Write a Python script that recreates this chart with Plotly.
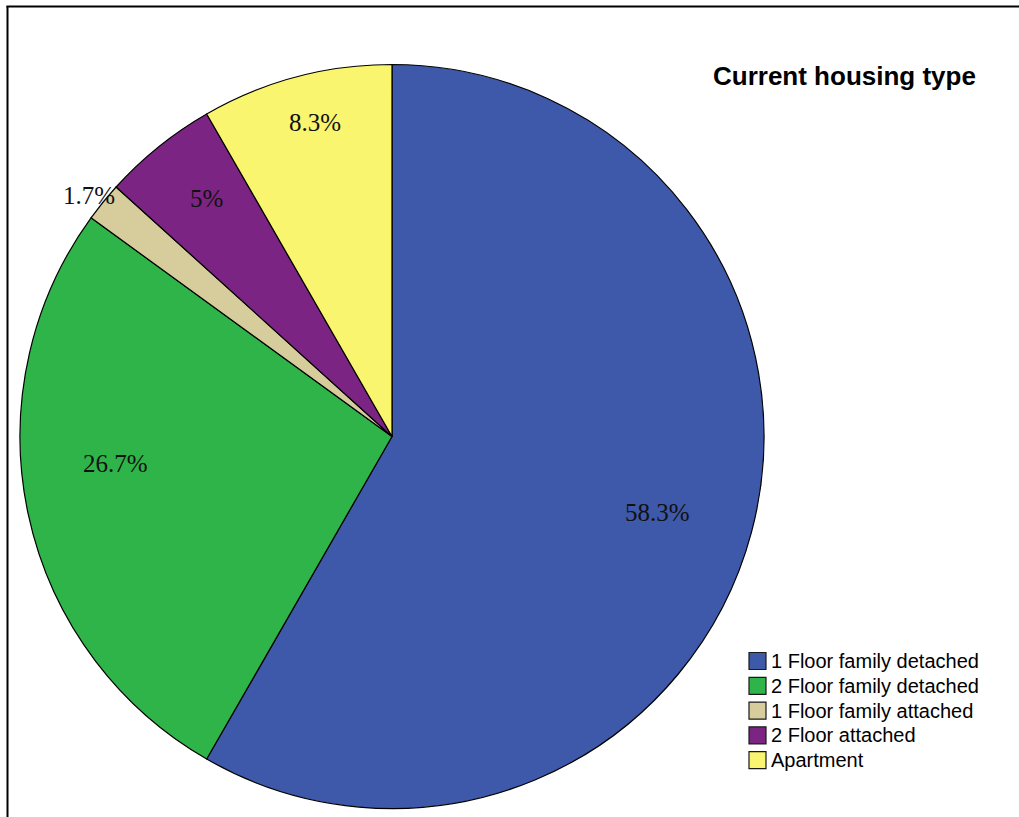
import math
import plotly.graph_objects as go

# Survey result: current housing type of respondents (percent)
categories = [
    "1 Floor family detached",
    "2 Floor family detached",
    "1 Floor family attached",
    "2 Floor attached",
    "Apartment",
]
percent = [58.3, 26.7, 1.7, 5, 8.3]
label_text = ["58.3%", "26.7%", "1.7%", "5%", "8.3%"]

colors = ["#3E58AA", "#2FB44A", "#D7CD9C", "#7C2484", "#FAF56E"]

W, H = 1019, 817
# pie geometry in pixels
CX, CY, R = 392.0, 436.5, 372.0
# label placement relative to slice bisector (radius fraction, angle nudge in degrees)
label_radius = [0.742, 0.747, 1.04, 0.81, 0.87]
label_nudge = [1.0, 6.5, -0.6, 1.0, 1.1]

# legend block geometry in pixels
LEG_X, LEG_Y0, LEG_STEP, LEG_BOX = 749.0, 661.0, 24.8, 17.0


def px(x):
    return x / W


def py(y):
    return 1 - y / H


fig = go.Figure()
fig.add_trace(
    go.Pie(
        labels=categories,
        values=percent,
        sort=False,
        direction="clockwise",
        rotation=0,
        textinfo="none",
        hoverinfo="label+percent",
        marker=dict(colors=colors, line=dict(color="#000000", width=1.2)),
        domain=dict(x=[px(CX - R), px(CX + R)], y=[py(CY + R), py(CY - R)]),
        showlegend=False,
    )
)

# percentage labels placed along each slice's bisector
total = sum(percent)
cum = 0.0
annotations = []
for i, v in enumerate(percent):
    mid = (cum + v / 2) / total * 360 + label_nudge[i]
    cum += v
    th = math.radians(mid)
    x = CX + label_radius[i] * R * math.sin(th)
    y = CY - label_radius[i] * R * math.cos(th)
    annotations.append(
        dict(
            x=px(x), y=py(y), xref="paper", yref="paper",
            text=label_text[i], showarrow=False,
            xanchor="center", yanchor="middle",
            font=dict(family="Liberation Serif", size=25, color="#111111"),
        )
    )

annotations.append(
    dict(
        x=px(711), y=py(76), xref="paper", yref="paper",
        text="<b>Current housing type</b>", showarrow=False,
        xanchor="left", yanchor="middle",
        font=dict(family="Liberation Sans", size=26, color="#000000"),
    )
)

# outer frame (top and left edges)
shapes = [
    dict(type="line", xref="paper", yref="paper",
         x0=px(6.5), x1=1, y0=py(6.5), y1=py(6.5),
         line=dict(color="#000000", width=2)),
    dict(type="line", xref="paper", yref="paper",
         x0=px(7.5), x1=px(7.5), y0=py(6), y1=0,
         line=dict(color="#000000", width=2)),
]

# legend: colour swatch + category name per row
for i, name in enumerate(categories):
    yc = LEG_Y0 + i * LEG_STEP
    shapes.append(
        dict(type="rect", xref="paper", yref="paper",
             x0=px(LEG_X), x1=px(LEG_X + LEG_BOX),
             y0=py(yc + LEG_BOX / 2), y1=py(yc - LEG_BOX / 2),
             fillcolor=colors[i], line=dict(color="#1a1a1a", width=1.2))
    )
    annotations.append(
        dict(
            x=px(LEG_X + LEG_BOX + 3), y=py(yc), xref="paper", yref="paper",
            text=name, showarrow=False, xanchor="left", yanchor="middle",
            font=dict(family="Liberation Sans", size=20, color="#000000"),
        )
    )

fig.update_layout(
    width=W, height=H,
    margin=dict(l=0, r=0, t=0, b=0),
    paper_bgcolor="#FFFFFF",
    plot_bgcolor="#FFFFFF",
    showlegend=False,
    annotations=annotations,
    shapes=shapes,
)

fig.write_html("out.html")
